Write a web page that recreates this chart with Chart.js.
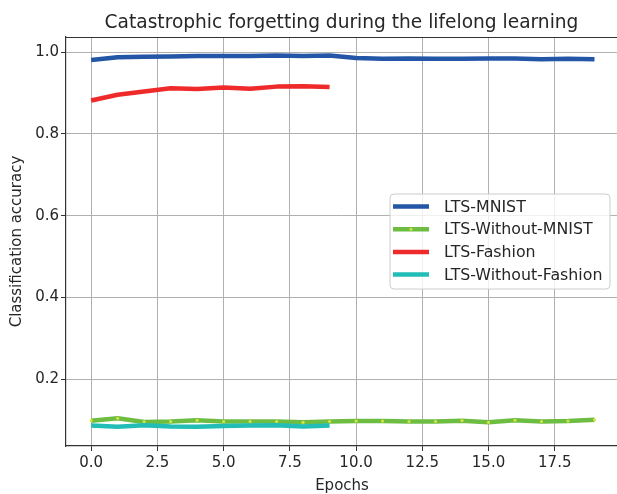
<!DOCTYPE html>
<html>
<head>
<meta charset="utf-8">
<script src="https://cdn.jsdelivr.net/npm/chart.js@4/dist/chart.umd.min.js"></script>
<style>
  html, body { margin: 0; padding: 0; background: #fff; }
</style>
</head>
<body>
<canvas id="accChart" width="617" height="494"></canvas>
<script>
const epochsLong  = [0, 1, 2, 3, 4, 5, 6, 7, 8, 9, 10, 11, 12, 13, 14, 15, 16, 17, 18, 19];
const epochsShort = [0, 1, 2, 3, 4, 5, 6, 7, 8, 9];

const ltsMnist = [0.981, 0.988, 0.989, 0.990, 0.991, 0.991, 0.991, 0.992, 0.991, 0.992,
                  0.986, 0.984, 0.985, 0.984, 0.984, 0.985, 0.985, 0.983, 0.984, 0.983];
const ltsWithoutMnist = [0.098, 0.104, 0.095, 0.096, 0.099, 0.096, 0.096, 0.096, 0.094, 0.096,
                         0.097, 0.097, 0.096, 0.096, 0.098, 0.094, 0.099, 0.096, 0.097, 0.100];
const ltsFashion = [0.882, 0.896, 0.904, 0.912, 0.910, 0.914, 0.911, 0.916, 0.917, 0.915];
const ltsWithoutFashion = [0.086, 0.083, 0.087, 0.084, 0.083, 0.085, 0.086, 0.087, 0.084, 0.086];

const seriesNames = ['LTS-MNIST', 'LTS-Without-MNIST', 'LTS-Fashion', 'LTS-Without-Fashion'];
const seriesColors = ['#2356a6', '#6dbd43', '#ee2a2b', '#22bdb7'];

const xTicks = [0, 2.5, 5, 7.5, 10, 12.5, 15, 17.5];
const yTicks = [0.2, 0.4, 0.6, 0.8, 1.0];

const titleText = 'Catastrophic forgetting during the lifelong learning';
const xLabel = 'Epochs';
const yLabel = 'Classification accuracy';

const FONT = '"DejaVu Sans", sans-serif';
const TEXT = '#262626';

function toPoints(xs, ys) {
  return xs.map((x, i) => ({ x: x, y: ys[i] }));
}

const decorPlugin = {
  id: 'decor',
  afterDraw(chart) {
    const { ctx, chartArea: a } = chart;
    ctx.save();

    // top spine
    ctx.strokeStyle = '#333';
    ctx.lineWidth = 1.2;
    ctx.beginPath();
    ctx.moveTo(a.left, a.top + 0.5);
    ctx.lineTo(a.right, a.top + 0.5);
    ctx.stroke();

    // title and axis labels
    ctx.fillStyle = TEXT;
    ctx.textAlign = 'center';
    ctx.textBaseline = 'alphabetic';
    ctx.font = '18.6px ' + FONT;
    ctx.fillText(titleText, 341.5, 28);

    ctx.font = '15px ' + FONT;
    ctx.fillText(xLabel, 342, 490);

    ctx.save();
    ctx.translate(21, (a.top + a.bottom) / 2);
    ctx.rotate(-Math.PI / 2);
    ctx.fillText(yLabel, 0, 0);
    ctx.restore();

    // legend
    const bx = 390, by = 194, bw = 220, bh = 95, r = 4;
    ctx.beginPath();
    ctx.moveTo(bx + r, by);
    ctx.arcTo(bx + bw, by, bx + bw, by + bh, r);
    ctx.arcTo(bx + bw, by + bh, bx, by + bh, r);
    ctx.arcTo(bx, by + bh, bx, by, r);
    ctx.arcTo(bx, by, bx + bw, by, r);
    ctx.closePath();
    ctx.fillStyle = 'rgba(255,255,255,0.8)';
    ctx.fill();
    ctx.strokeStyle = '#cccccc';
    ctx.lineWidth = 1;
    ctx.stroke();

    ctx.font = '15.8px ' + FONT;
    ctx.textAlign = 'left';
    ctx.textBaseline = 'middle';
    seriesNames.forEach((name, i) => {
      const y = 206.5 + i * 22.7;
      ctx.strokeStyle = seriesColors[i];
      ctx.lineWidth = 4.5;
      ctx.beginPath();
      ctx.moveTo(393, y);
      ctx.lineTo(429, y);
      ctx.stroke();
      if (i === 1) {
        ctx.fillStyle = '#d6e33c';
        ctx.beginPath();
        ctx.arc(411, y, 1.5, 0, Math.PI * 2);
        ctx.fill();
      }
      ctx.fillStyle = TEXT;
      ctx.fillText(name, 444, y + 1);
    });

    ctx.restore();
  }
};

const ctx = document.getElementById('accChart').getContext('2d');
new Chart(ctx, {
  type: 'line',
  data: {
    datasets: [
      { data: toPoints(epochsLong, ltsMnist), borderColor: seriesColors[0], order: 4, pointRadius: 0 },
      { data: toPoints(epochsLong, ltsWithoutMnist), borderColor: seriesColors[1], order: 3,
        pointRadius: 1.6, pointStyle: 'circle', pointBackgroundColor: '#d6e33c', pointBorderWidth: 0 },
      { data: toPoints(epochsShort, ltsFashion), borderColor: seriesColors[2], order: 2, pointRadius: 0 },
      { data: toPoints(epochsShort, ltsWithoutFashion), borderColor: seriesColors[3], order: 1, pointRadius: 0 }
    ]
  },
  options: {
    responsive: false,
    animation: false,
    layout: { autoPadding: false, padding: { top: 37, left: 0, right: 0, bottom: 0 } },
    elements: { line: { borderWidth: 4.5, tension: 0, fill: false, borderCapStyle: 'butt', borderJoinStyle: 'round' } },
    plugins: { legend: { display: false }, title: { display: false }, tooltip: { enabled: false } },
    scales: {
      x: {
        type: 'linear',
        min: -0.95,
        max: 19.85,
        afterFit: s => { s.height = 48; s.paddingLeft = 0; s.paddingRight = 0; },
        afterBuildTicks: s => { s.ticks = xTicks.map(v => ({ value: v })); },
        ticks: {
          color: TEXT, padding: 3, maxRotation: 0,
          font: { family: FONT, size: 15 },
          callback: v => v.toFixed(1)
        },
        grid: { color: '#b0b0b0', lineWidth: 1, tickLength: 5, tickColor: '#333' },
        border: { color: '#333', width: 1.2 }
      },
      y: {
        min: 0.036,
        max: 1.0375,
        afterFit: s => { s.width = 66; s.paddingTop = 0; s.paddingBottom = 0; },
        afterBuildTicks: s => { s.ticks = yTicks.map(v => ({ value: v })); },
        ticks: {
          color: TEXT, padding: 2,
          font: { family: FONT, size: 15 },
          callback: v => v.toFixed(1)
        },
        grid: { color: '#b0b0b0', lineWidth: 1, tickLength: 5, tickColor: '#333' },
        border: { color: '#333', width: 1.2 }
      }
    }
  },
  plugins: [decorPlugin]
});
</script>
</body>
</html>
